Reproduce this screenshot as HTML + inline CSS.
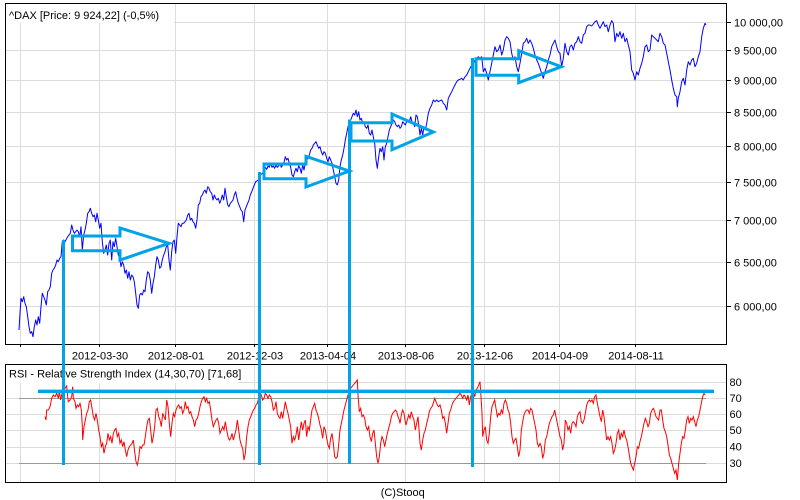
<!DOCTYPE html>
<html><head><meta charset="utf-8"><style>
html,body{margin:0;padding:0;background:#fff;width:800px;height:500px;overflow:hidden}
svg{display:block}
text{font-family:"Liberation Sans",Arial,sans-serif;font-size:11px;fill:#000}
</style></head><body>
<svg width="800" height="500" viewBox="0 0 800 500" xmlns="http://www.w3.org/2000/svg">
<rect x="0" y="0" width="800" height="500" fill="#fff"/>
<!-- main grid -->
<g stroke="#dcdcdc" stroke-width="1" shape-rendering="crispEdges">
<line x1="20.5" y1="4" x2="20.5" y2="344"/><line x1="99.5" y1="4" x2="99.5" y2="344"/><line x1="175.5" y1="4" x2="175.5" y2="344"/><line x1="254.5" y1="4" x2="254.5" y2="344"/><line x1="327.5" y1="4" x2="327.5" y2="344"/><line x1="405.5" y1="4" x2="405.5" y2="344"/><line x1="484.5" y1="4" x2="484.5" y2="344"/><line x1="559.5" y1="4" x2="559.5" y2="344"/><line x1="635.5" y1="4" x2="635.5" y2="344"/>
<line x1="6" y1="22.5" x2="726" y2="22.5"/><line x1="6" y1="50.5" x2="726" y2="50.5"/><line x1="6" y1="80.5" x2="726" y2="80.5"/><line x1="6" y1="112.5" x2="726" y2="112.5"/><line x1="6" y1="146.5" x2="726" y2="146.5"/><line x1="6" y1="182.5" x2="726" y2="182.5"/><line x1="6" y1="220.5" x2="726" y2="220.5"/><line x1="6" y1="262.5" x2="726" y2="262.5"/><line x1="6" y1="306.5" x2="726" y2="306.5"/>
</g>
<!-- RSI grid -->
<g stroke="#dcdcdc" stroke-width="1" shape-rendering="crispEdges">
<line x1="20.5" y1="365" x2="20.5" y2="482"/><line x1="99.5" y1="365" x2="99.5" y2="482"/><line x1="175.5" y1="365" x2="175.5" y2="482"/><line x1="254.5" y1="365" x2="254.5" y2="482"/><line x1="327.5" y1="365" x2="327.5" y2="482"/><line x1="405.5" y1="365" x2="405.5" y2="482"/><line x1="484.5" y1="365" x2="484.5" y2="482"/><line x1="559.5" y1="365" x2="559.5" y2="482"/><line x1="635.5" y1="365" x2="635.5" y2="482"/>
<line x1="6" y1="382.5" x2="726" y2="382.5"/><line x1="6" y1="398.5" x2="726" y2="398.5"/><line x1="6" y1="414.5" x2="726" y2="414.5"/><line x1="6" y1="430.5" x2="726" y2="430.5"/><line x1="6" y1="447.5" x2="726" y2="447.5"/><line x1="6" y1="463.5" x2="726" y2="463.5"/>
</g>
<g stroke="#999" stroke-width="1" shape-rendering="crispEdges">
<line x1="19" y1="398.5" x2="706" y2="398.5"/><line x1="19" y1="463.5" x2="706" y2="463.5"/>
</g>
<!-- title boxes -->
<rect x="6" y="4" width="168" height="19" fill="#fff"/>
<rect x="6" y="365" width="232" height="18" fill="#fff"/>
<text x="9" y="19">^DAX [Price: 9 924,22] (-0,5%)</text>
<text x="9" y="377.5">RSI - Relative Strength Index (14,30,70) [71,68]</text>
<!-- price -->
<polyline fill="none" stroke="#0000ff" stroke-width="1" stroke-linejoin="round" points="19,330 20,313.3 21,298.3 22.3,301.7 23.7,296.7 25,303.3 26.3,306.7 27.7,316.7 29,326.7 30.3,333.3 31.7,331.7 33,336.7 34.3,326.7 35.7,320 37,325 38.3,316.7 39.7,323.3 41,306.7 42.3,293.3 43.7,296.7 45,300 46.3,305 47.7,291.7 49,290 50.3,286.7 51.7,273.3 53,270 54.3,268.3 55.7,265 57,260 58.3,261.7 59.7,258.3 61,256.7 62.3,241.7 63.7,240 65,241.7 66.3,239.3 67.7,236.7 70.3,233.3 71.7,225 73,230 74.3,233.3 75.7,231.7 77,230 78.3,231.7 79.7,236.7 81,226.7 82.3,250 83.7,235 85,230 86.3,223.3 87.7,213.3 89,211.7 90.3,208.3 91.7,213.3 93,216.7 94.3,215 95.7,221.7 97,213.3 98.3,220 99.7,228.3 101,223.3 102.3,241.7 103.7,253.3 105,250 106.3,245 107.7,255 109,243.3 110.3,240 111.7,260 113,241.7 114.3,246.7 115.7,238.3 117,246.7 118.3,255 119.7,258.3 121,266.7 122.3,261.7 123.7,265 125,273.3 126.3,270 127.7,278.3 129,271.7 130.3,280 131.7,275 133,276.7 134.3,281.7 135.7,293.3 137,305 138.3,308.3 139.7,295 141,293.3 142.3,295 143.7,290 145,291.7 146.3,280 147.7,271.7 149,273.3 150.3,280 151.7,293.3 153,283.3 154.3,276.7 155.7,265 157,256.7 158.3,260 159.7,268.3 161,266.7 162.3,260 163.7,255 165,251.7 166.3,246.7 167.7,245 169,260 170.3,270 171.7,251.7 173,241.7 174.3,240 175.7,253.3 177,236.7 178.3,223.3 179.7,225 181,226.7 182.3,223.3 183.7,223.3 185,221.7 186.3,220 187.7,215 189,213.3 190.3,220 191.7,218.3 193,221.7 194.3,223.3 195.7,228.3 197,220 198.3,205 199.7,203.3 201,196.7 202.3,195 203.7,191.7 205,190 206.3,193.3 207.7,186.7 209,188.3 210.3,191.7 211.7,193.3 213,200 214.3,195 215.7,198.3 217,200 218.3,198.3 219.7,203.3 221,200 222.3,195 223.7,200 225,188.3 226.3,196.7 227.7,205 229,206.7 230.3,203.3 231.7,201.7 233,200 234.3,195 235.7,191.7 237,198.3 238.3,203.3 239.7,206.7 241,210 242.3,211.7 243.7,221.7 245,210 246.3,206.7 247.7,203.3 249,200 250.3,195 251.7,191.7 253,188.3 254.3,185 255.7,181.7 258.3,180 260,175 262.7,173.3 264,170 265.3,167.3 266.7,169.3 268,166 269.3,167.3 270.7,163.3 272,167.3 273.3,166 274.7,168.3 276,165 277.3,167.3 278.7,166 280,163.3 281.3,167.3 282.7,165 284,162.7 285.3,156.7 286.7,160 288,158.3 289.3,163.3 290.7,167.3 292,175 293.3,176.7 294.7,171.7 296,168.3 297.3,171.7 298.7,166 300,168.3 301.3,173.3 302.7,165 304,170 305.3,163.3 306.7,160 308,158.3 309.3,155 310.7,150 312,148.3 313.3,145 314.7,143.3 316,141.7 317.3,145 318.7,148.3 320,146.7 321.3,151.7 322.7,155 324,151.7 325.3,153.3 326.7,158.3 328,161.7 329.3,156.7 330.7,160 332,163.3 333.3,170 334.7,176.7 336,183.3 337.3,185 338.7,180 340,166.7 341.3,160 342.7,155 344,148.3 345.3,140 346.7,133.3 348,126.7 349.3,123.3 350.7,120 352,116.7 353.3,113.3 354.7,115 356,110 357.3,116.7 358.7,111.7 360,120 361.3,118.3 362.7,123.3 364,121.7 365.3,126.7 366.7,128.3 368,125 369.3,133.3 370.7,135 372,130 373.3,136.7 374.7,143.3 376,160 377.3,168.3 378.7,156.7 380,148.3 381.3,151.7 382.7,146.7 384,160 385.3,146.7 386.7,143.3 388,136.7 389.3,130 390.7,126.7 392,123.3 393.3,120 394.7,121.7 396,125 397.3,126.7 398.7,125 400,128.3 401.3,126.7 402.7,121.7 404,123.3 405.3,125 406.7,121.7 408,120 409.3,121.7 410.7,116.7 412,121.7 413.3,123.3 414.7,126.7 416,115 417.3,116.7 418.7,125 420,135 421.3,128.3 422.7,135 424,126.7 425.3,130 426.7,123.3 428.3,113.3 430,108.3 431.7,105 433.3,100 435,101.7 436.7,100 438.3,101.7 440,100.7 441.7,100 443.3,103.3 445,105 446.7,110 448.3,98.3 450,95 451.7,91.7 453.3,88.3 455,85 456.7,81.7 458.3,80 460,79.3 461.7,78.3 463.3,80 465,76.7 466.7,75 468.3,71.7 470,68.3 471.7,65 473.3,63.3 475,60 476.7,58.3 478.3,56.7 480,58.3 481.7,56.7 483.3,71.7 485,68.3 486.7,73.3 488.3,80 490,71.7 491.7,63.3 493.3,55 495,46.7 496.7,51.7 498.3,50 500,45 501.7,55 503.3,50 505,40 506.7,36.7 508.3,38.3 510,41.7 511.7,53.3 513.3,60 515,56.7 516.7,66.7 518.3,71.7 520,63.3 521.7,53.3 523.3,43.3 525,41.7 526.7,38.3 528.3,43.3 530,40 531.7,43.3 533.3,48.3 535,55 536.7,60 538.3,63.3 540,68.3 541.7,73.3 543.3,78.3 545,71.7 546.7,66.7 548.3,60 550,55 551.7,46.7 553.3,43.3 555,40 556.7,46.7 558.3,51.7 560,53.3 561.7,66.7 563.3,58.3 565,43.3 566.7,51.7 568.3,55 570,46.7 571.7,45 573.3,50 575,43.3 576.7,41.7 578.3,36.7 580,41.7 581.7,43.3 583.3,35 585,33.3 586.7,26.7 588.3,25 590,25 591.7,26 593.3,24 595,21.7 596.7,20.7 598.3,25 600,28.3 601.7,25 603.3,21.7 605,26.7 606.7,25 608.3,31.7 610,25 611.7,20.7 613.3,23.3 615,41.7 616.7,33.3 618.3,36.7 620,31.7 621.7,38.3 623.3,33.3 625,41.7 626.7,38.3 628.3,45 630,51.7 631.7,70 633.3,73.3 635,80 636.7,71.7 638.3,75 640,68.3 641.7,63.3 643.3,56.7 645,46.7 646.7,45 648.3,51.7 650,50 651.7,35 653.3,36.7 655,38.3 656.7,40 658.3,41.7 660,33.3 661.7,36.7 663.3,43.3 665,45 666.7,53.3 668.3,61.7 670,70 671.7,80 673.3,88.3 675,95 676.7,96.7 677.3,106.7 678.3,98.3 680,91.7 681.7,81.7 683.3,78.3 685,85 686.7,70 688.3,61.7 690,65 691.7,60 693.3,58.3 695,66.7 696.7,63.3 698.3,56.7 700,51.7 701.7,36.7 703.3,28.3 705,23.3 706,25"/>
<!-- RSI -->
<g fill="none" stroke="#ff0000" stroke-width="1">
<polyline vector-effect="non-scaling-stroke" transform="translate(0,330) scale(0.333333)" points="135,260 138,270 140,240 145,240 150,230 155,205 160,195 165,200 170,190 175,205 178,185 182,210 186,190 190,185 195,175 200,168 203,200 205,215 210,210 215,200 218,170 220,205 225,215 228,235 232,225 236,230 240,220 244,240 247,290 248,330 252,290 256,270 260,250 264,240 268,215 272,210 276,235 280,260 284,270 288,250 292,270 296,300 300,320 304,350 308,340 312,370 316,350 320,340 324,310 328,330 332,320 336,340 340,310 344,300 348,295 352,320 356,310 360,340 364,330 368,350 372,335 376,360 380,380 384,360 388,350 392,345 396,340 400,330 404,365 408,395 412,405 416,385 420,350 424,355 428,345 432,345 436,320 440,290 444,270 448,265 452,300 456,340 460,320 464,290 468,240 472,235 476,260 480,270 484,290 488,250 492,260 496,270 500,210 504,230 508,280 512,320 516,280 520,250 524,260 528,240 532,230 536,225 540,235 544,230 548,250 552,240 556,215 560,235 564,230 568,250 572,245 576,260 580,270 584,290 588,270 592,265 596,250 600,230 604,215 608,205 612,200 616,215 620,205 624,220 628,215 632,240 636,270 640,290 644,280 648,270 652,265 656,280 660,310 664,300 668,290 672,300 676,275 680,300 684,320 688,330 692,325 696,310 700,330 704,315 708,300 712,270 716,300 720,330 724,345 728,355 732,390 736,370 740,320 744,290 748,270 752,260 756,250 760,240 764,235 768,225 772,220 776,205 780,200 784,195 788,210 792,205 796,190 800,195 804,205 808,195 812,200 816,215 820,240 824,235 828,215 832,250 836,260 840,265 844,245 848,265 852,240 856,215 860,235 864,250 868,270 872,290 876,340 880,320 884,330 888,315 892,290 896,330 900,300 904,275 908,300 912,280 916,270 920,320 924,290 928,300 932,270 936,240 940,230 944,220 948,240 952,250 956,265 960,285 964,300 968,325 972,290 976,300 980,325 984,345 988,355 992,325 996,310 1000,340 1004,380 1008,385 1012,380 1016,345 1020,300 1024,280 1028,260 1032,240 1036,225 1040,210 1044,195 1048,185 1052,175 1056,170 1060,165 1064,160 1068,155 1072,150 1074,195 1078,245 1082,235 1086,260 1090,255 1094,265 1098,290 1102,300 1106,290 1110,320 1114,335 1118,310 1122,300 1126,340 1130,380 1134,400 1138,380 1142,340 1146,320 1150,330 1154,350 1158,330 1162,310 1166,295 1170,280 1174,260 1178,250 1182,245 1186,240 1190,245 1194,260 1198,270 1200,280"/>
<polyline vector-effect="non-scaling-stroke" transform="translate(400,330) scale(0.333333)" points="0,280 5,250 8,240 12,250 15,270 18,285 22,270 26,255 30,265 34,245 38,260 42,270 46,300 50,280 54,260 58,310 60,340 64,360 68,330 72,310 76,300 80,280 84,265 88,245 92,235 96,230 100,220 104,205 108,215 112,225 116,230 120,225 124,240 128,265 132,260 136,280 140,310 144,280 148,250 152,240 156,225 160,215 164,210 168,205 172,200 176,195 180,190 184,195 188,205 192,195 196,200 200,210 204,195 208,225 212,200 216,190 220,185 224,200 228,180 232,175 236,165 240,155 243,200 246,250 248,320 252,300 256,290 260,330 264,340 268,310 272,260 276,230 280,220 284,210 288,235 292,260 296,250 300,255 304,240 308,250 312,220 316,210 320,220 324,240 328,250 332,280 336,320 340,340 344,330 348,325 352,350 356,380 360,360 364,300 368,275 372,255 376,245 380,240 384,240 388,250 392,235 396,240 400,260 404,280 408,300 412,340 416,350 420,340 424,350 428,385 432,370 436,330 440,320 444,300 448,280 452,270 456,260 460,255 464,240 468,260 472,280 476,300 480,320 484,330 488,360 492,340 496,270 500,280 504,300 508,290 512,310 516,280 520,275 524,280 528,290 532,260 536,250 540,245 544,275 548,280 552,270 556,250 560,225 564,215 568,210 572,215 576,210 580,220 584,200 588,195 592,220 596,240 600,260 604,275 608,240 612,260 616,295 620,330 624,320 628,330 632,320 636,340 640,370 644,360 648,340 652,310 656,300 660,330 664,310 668,320 672,300 676,320 680,330 684,350 688,375 692,400 696,410 700,420 704,400 708,380 712,350 716,355 720,335 724,320 728,300 732,280 736,265 740,275 744,290 748,280 752,250 756,240 760,235 764,245 768,260 772,265 776,270 780,240 784,240 788,270 792,295 796,305 800,320 804,345 808,375 812,385 816,400 820,415 824,430 828,420 832,450 836,400 840,370 844,340 848,320 852,325 856,300 860,270 864,260 868,280 872,265 876,270 880,260 884,275 888,290 892,270 896,260 900,240 904,220 908,200 912,190 916,195"/>
</g>
<!-- frames -->
<g fill="none" stroke="#000" stroke-width="1" shape-rendering="crispEdges">
<rect x="5.5" y="3.5" width="721" height="341"/>
<rect x="5.5" y="364.5" width="721" height="118"/>
</g>
<!-- ticks -->
<g stroke="#000" stroke-width="1" shape-rendering="crispEdges">
<line x1="20.5" y1="344" x2="20.5" y2="347"/><line x1="99.5" y1="344" x2="99.5" y2="347"/><line x1="175.5" y1="344" x2="175.5" y2="347"/><line x1="254.5" y1="344" x2="254.5" y2="347"/><line x1="327.5" y1="344" x2="327.5" y2="347"/><line x1="405.5" y1="344" x2="405.5" y2="347"/><line x1="484.5" y1="344" x2="484.5" y2="347"/><line x1="559.5" y1="344" x2="559.5" y2="347"/><line x1="635.5" y1="344" x2="635.5" y2="347"/>
<line x1="727" y1="22.5" x2="731" y2="22.5"/><line x1="727" y1="50.5" x2="731" y2="50.5"/><line x1="727" y1="80.5" x2="731" y2="80.5"/><line x1="727" y1="112.5" x2="731" y2="112.5"/><line x1="727" y1="146.5" x2="731" y2="146.5"/><line x1="727" y1="182.5" x2="731" y2="182.5"/><line x1="727" y1="220.5" x2="731" y2="220.5"/><line x1="727" y1="262.5" x2="731" y2="262.5"/><line x1="727" y1="306.5" x2="731" y2="306.5"/>
</g>
<!-- y labels -->
<text x="734" y="26.7">10 000,00</text>
<text x="734" y="54.7">9 500,00</text>
<text x="734" y="84.3">9 000,00</text>
<text x="734" y="116.3">8 500,00</text>
<text x="734" y="150.3">8 000,00</text>
<text x="734" y="186.7">7 500,00</text>
<text x="734" y="224.7">7 000,00</text>
<text x="734" y="266.3">6 500,00</text>
<text x="734" y="310.3">6 000,00</text>
<text x="729.5" y="386.2">80</text>
<text x="729.5" y="401.8">70</text>
<text x="729.5" y="417.8">60</text>
<text x="729.5" y="433.8">50</text>
<text x="729.5" y="450.5">40</text>
<text x="729.5" y="466.8">30</text>
<!-- date labels -->
<g text-anchor="middle">
<text x="100" y="359.5">2012-03-30</text>
<text x="176" y="359.5">2012-08-01</text>
<text x="255" y="359.5">2012-12-03</text>
<text x="328" y="359.5">2013-04-04</text>
<text x="406" y="359.5">2013-08-06</text>
<text x="485" y="359.5">2013-12-06</text>
<text x="560" y="359.5">2014-04-09</text>
<text x="636" y="359.5">2014-08-11</text>
</g>
<text x="380.7" y="496">(C)Stooq</text>
<!-- annotations -->
<g fill="none" stroke="#00a2e8" stroke-width="3" stroke-linejoin="miter">
<line x1="63.5" y1="240" x2="63.5" y2="465"/>
<line x1="259.5" y1="172" x2="259.5" y2="465"/>
<line x1="349.5" y1="119.5" x2="349.5" y2="464"/>
<line x1="472.5" y1="58" x2="472.5" y2="467"/>
<polygon points="72.5,236 120,236 120,228 169,243.3 120,260 120,250.8 72.5,250.8"/>
<polygon points="264,164 306,164 306,156.3 349.3,171 306,187 306,178.7 264,178.7"/>
<polygon points="351,122.7 392,122.7 392,114 433.3,132 392,149.7 392,141 351,141"/>
<polygon points="476,58.7 518.7,58.7 518.7,50.7 561.3,66.7 518.7,82.7 518.7,75.3 476,75.3"/>
</g>
<line x1="38" y1="391.3" x2="714" y2="391.3" stroke="#00a2e8" stroke-width="3.4"/>
</svg>
</body></html>
